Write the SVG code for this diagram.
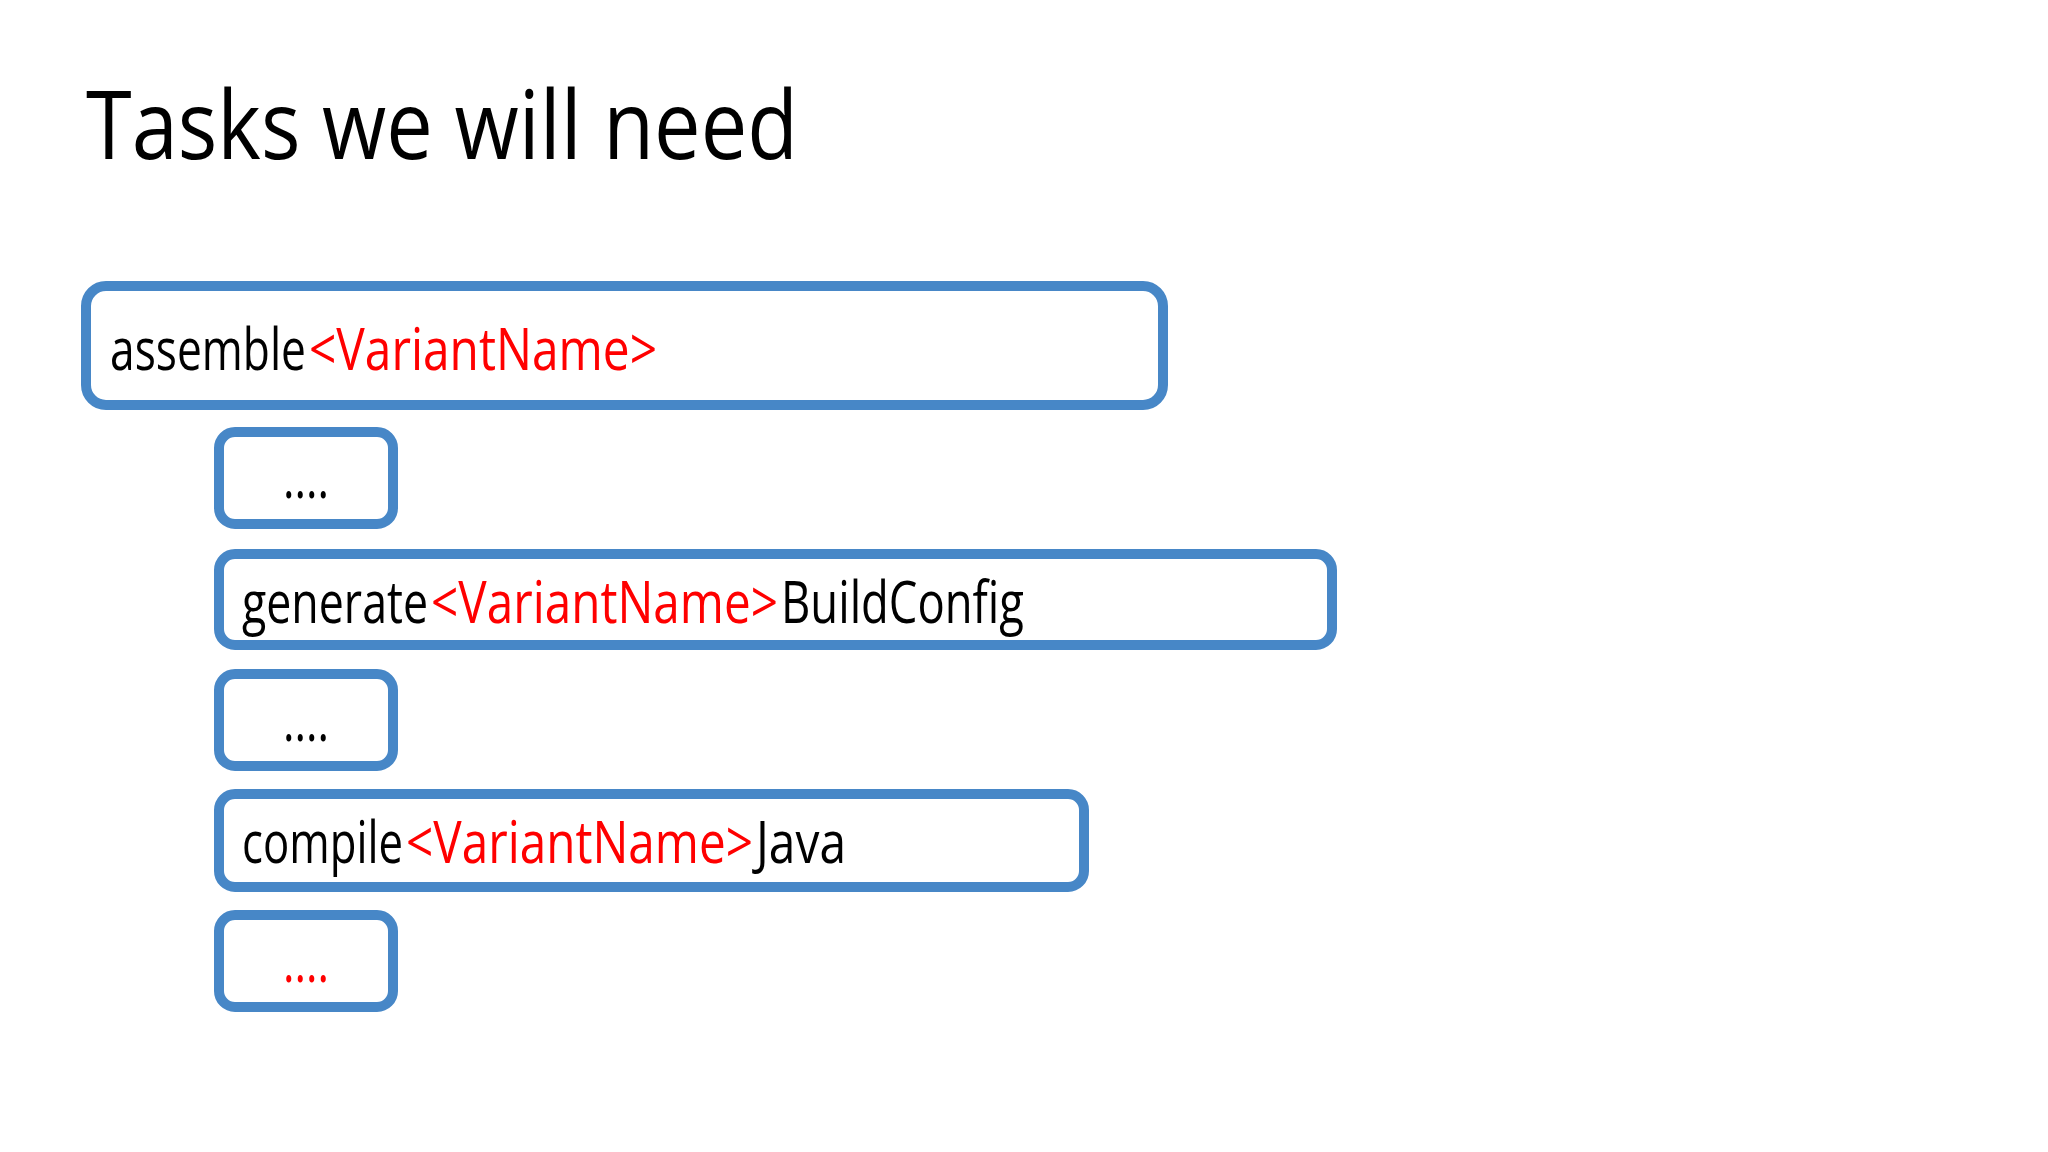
<svg xmlns="http://www.w3.org/2000/svg" width="2048" height="1152" viewBox="0 0 2048 1152">
<style>
.box{fill:#ffffff;stroke:#4787C7;stroke-width:10}
.t{font-family:"Open Sans","Noto Sans",sans-serif;font-size:59px;fill:#000}
.r{fill:#FF0000}
.title{font-family:"Open Sans","Noto Sans",sans-serif;font-size:95px;fill:#000}
</style>
<rect width="2048" height="1152" fill="#ffffff"/>
<text class="title" x="86" y="159" textLength="712" lengthAdjust="spacingAndGlyphs">Tasks we will need</text>
<g id="connectors"/>
<g id="assemble">
<rect class="box" x="86" y="286" width="1077" height="119" rx="20"/>
<text class="t" y="370"><tspan x="110" textLength="196" lengthAdjust="spacingAndGlyphs">assemble</tspan><tspan class="r" x="309" textLength="348" lengthAdjust="spacingAndGlyphs">&lt;VariantName&gt;</tspan></text>
</g>
<g id="dots1">
<rect class="box" x="219" y="432" width="174" height="92" rx="16"/>
<text class="t" x="283" y="498" textLength="46" lengthAdjust="spacingAndGlyphs">....</text>
</g>
<g id="generate">
<rect class="box" x="219" y="554" width="1113" height="91" rx="16"/>
<text class="t" y="623"><tspan x="242" textLength="186" lengthAdjust="spacingAndGlyphs">generate</tspan><tspan class="r" x="431" textLength="347" lengthAdjust="spacingAndGlyphs">&lt;VariantName&gt;</tspan><tspan x="781" textLength="243" lengthAdjust="spacingAndGlyphs">BuildConfig</tspan></text>
</g>
<g id="dots2">
<rect class="box" x="219" y="674" width="174" height="92" rx="16"/>
<text class="t" x="283" y="741" textLength="46" lengthAdjust="spacingAndGlyphs">....</text>
</g>
<g id="compile">
<rect class="box" x="219" y="794" width="865" height="93" rx="16"/>
<text class="t" y="863"><tspan x="242" textLength="161" lengthAdjust="spacingAndGlyphs">compile</tspan><tspan class="r" x="406" textLength="347" lengthAdjust="spacingAndGlyphs">&lt;VariantName&gt;</tspan><tspan x="756" textLength="90" lengthAdjust="spacingAndGlyphs">Java</tspan></text>
</g>
<g id="dots3">
<rect class="box" x="219" y="915" width="174" height="92" rx="16"/>
<text class="t r" x="283" y="982" textLength="46" lengthAdjust="spacingAndGlyphs">....</text>
</g>
</svg>
